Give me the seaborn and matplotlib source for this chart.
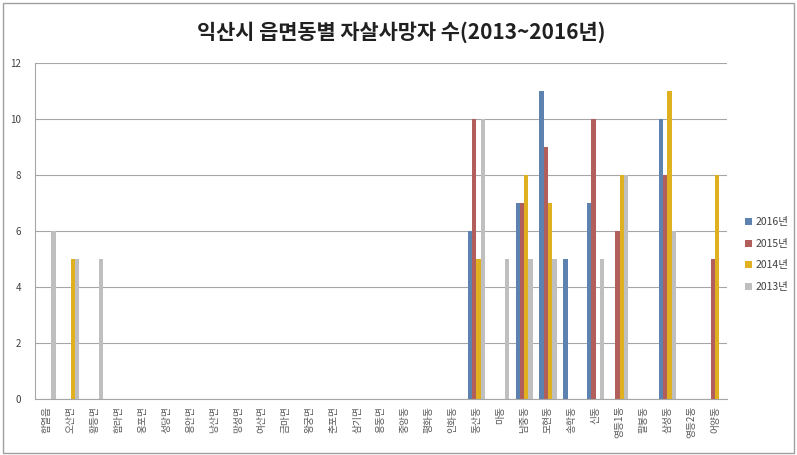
import pandas as pd
import matplotlib.pyplot as plt
import seaborn as sns
from matplotlib.patches import Rectangle


# Data

regions = ['함열읍', '오산면', '황등면', '함라면', '웅포면', '성당면', '용안면', '낭산면',
           '망성면', '여산면', '금마면', '왕궁면', '춘포면', '삼기면', '용동면', '중앙동',
           '평화동', '인화동', '동산동', '마동', '남중동', '모현동', '송학동', '신동',
           '영등1동', '팔봉동', '삼성동', '영등2동', '어양동']

years = ['2016년', '2015년', '2014년', '2013년']

deaths_2016 = [0, 0, 0, 0, 0, 0, 0, 0, 0, 0, 0, 0, 0, 0, 0, 0, 0, 0, 6, 0, 7, 11, 5, 7, 0, 0, 10, 0, 0]
deaths_2015 = [0, 0, 0, 0, 0, 0, 0, 0, 0, 0, 0, 0, 0, 0, 0, 0, 0, 0, 10, 0, 7, 9, 0, 10, 6, 0, 8, 0, 5]
deaths_2014 = [0, 5, 0, 0, 0, 0, 0, 0, 0, 0, 0, 0, 0, 0, 0, 0, 0, 0, 5, 0, 8, 7, 0, 0, 8, 0, 11, 0, 8]
deaths_2013 = [6, 5, 5, 0, 0, 0, 0, 0, 0, 0, 0, 0, 0, 0, 0, 0, 0, 0, 10, 5, 5, 5, 0, 5, 8, 0, 6, 0, 0]

colors = ['#4F81BD', '#C0504D', '#FFC000', '#BFBFBF']


# Long-form table for seaborn

series = [deaths_2016, deaths_2015, deaths_2014, deaths_2013]
rows = []
for year, values in zip(years, series):
    for region, v in zip(regions, values):
        rows.append({'region': region, 'year': year, 'count': v})
df = pd.DataFrame(rows)


# Plot

sns.set_style('white')
plt.rcParams['font.family'] = ['Noto Sans CJK KR', 'DejaVu Sans']

fig = plt.figure(figsize=(7.97, 4.55), dpi=100)
ax = fig.add_axes([0.044, 0.123, 0.868, 0.738])

sns.barplot(data=df, x='region', y='count', hue='year', order=regions,
            hue_order=years, palette=colors, width=0.72, linewidth=0,
            errorbar=None, ax=ax)

ax.set_ylim(0, 12)
ax.set_yticks(range(0, 13, 2))
ax.set_xlim(-0.5, len(regions) - 0.5)
ax.yaxis.grid(True, color='#a6a6a6', linewidth=0.8)
ax.set_axisbelow(True)
ax.set_xlabel('')
ax.set_ylabel('')

for side in ['top', 'right']:
    ax.spines[side].set_visible(False)
ax.spines['left'].set_color('#a6a6a6')
ax.spines['bottom'].set_color('#a6a6a6')

ax.tick_params(axis='y', length=0, pad=10, labelsize=7, labelcolor='#404040')
ax.tick_params(axis='x', length=0, pad=5)

# vertical labels reading bottom to top
ax.set_xticks(range(len(regions)))
ax.set_xticklabels(regions, rotation=90, fontsize=7, color='#595959',
                   va='top', ha='center')

fig.suptitle('익산시 읍면동별 자살사망자 수(2013~2016년)', x=0.503, y=0.952,
             fontsize=15, fontweight='bold', color='#202020')

handles, labels = ax.get_legend_handles_labels()
ax.legend(handles, labels, loc='center left', bbox_to_anchor=(1.02, 0.43),
          frameon=False, fontsize=7.5, handlelength=0.7, handleheight=0.7,
          handletextpad=0.3, labelspacing=1.1, borderaxespad=0,
          labelcolor='#404040')

# light frame around the whole chart
fig.patches.append(Rectangle((0.004, 0.004), 0.992, 0.99, transform=fig.transFigure,
                             fill=False, edgecolor='#a0a0a0', linewidth=1))

plt.savefig('out.png', dpi=100)
